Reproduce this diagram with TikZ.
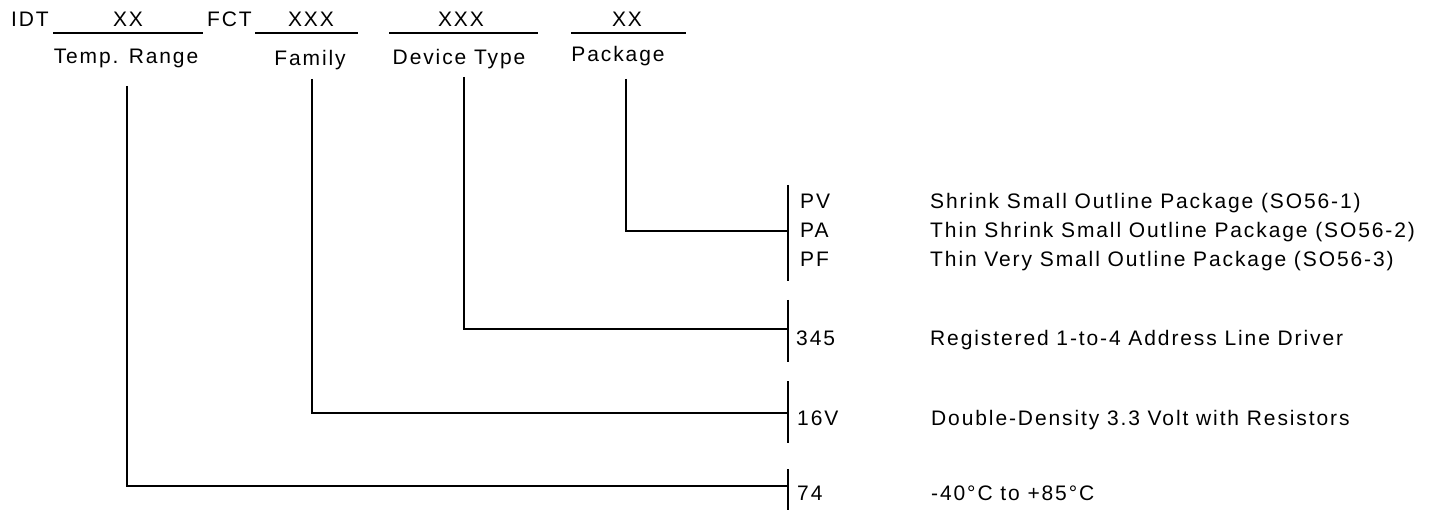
\documentclass[tikz,border=0pt]{standalone}
\usepackage{fontspec}
\setmainfont{Liberation Sans}
\newfontfamily\partfont[LetterSpace=9]{Liberation Sans}
\usetikzlibrary{positioning}

\begin{document}
\begin{tikzpicture}[
    x=1pt, y=-1pt,
    font={\partfont\fontsize{21}{25}\selectfont},
    txt/.style={anchor=base, inner sep=0pt},
    txtl/.style={anchor=base west, inner sep=0pt},
    rule/.style={line width=2.2pt},
    lead/.style={line width=2.2pt},
  ]
  \useasboundingbox (0,0) rectangle (1434,510);

  % --- Part number fields -------------------------------------------------
  \node[txtl] (idt) at (11,27) {IDT};
  \node[txt] (temp-code) at (128,27) {XX};
  \node[txtl] (fct) at (207,27) {FCT};
  \node[txt] (fam-code) at (311,27) {XXX};
  \node[txt] (dev-code) at (461,27) {XXX};
  \node[txt] (pkg-code) at (627,27) {XX};

  \draw[rule] (53,33) -- (203,33);
  \draw[rule] (255,33) -- (358,33);
  \draw[rule] (389,33) -- (538,33);
  \draw[rule] (571,33) -- (686,33);

  \node[txt] (temp) at (126,64) {Temp. Range};
  \node[txt] (fam) at (310,66) {Family};
  \node[txt] (dev) at (459,65) {Device Type};
  \node[txt] (pkg) at (618,62) {Package};

  % --- Lead-in points -----------------------------------------------------
  \coordinate (temp-in) at (127,86);
  \coordinate (fam-in) at (312,79);
  \coordinate (dev-in) at (464,77);
  \coordinate (pkg-in) at (626,79);

  % --- Option brackets ----------------------------------------------------
  \coordinate (pkg-br) at (788,231);
  \coordinate (dev-br) at (788,329);
  \coordinate (fam-br) at (788,413);
  \coordinate (temp-br) at (788,486);

  \draw[rule] (788,185) -- (788,281);
  \draw[rule] (788,300) -- (788,362);
  \draw[rule] (788,381) -- (788,443);
  \draw[rule] (788,469) -- (788,510);

  % --- Options ------------------------------------------------------------
  \node[txtl] (pv) at (800,209) {PV};
  \node[txtl] (pa) at (800,238) {PA};
  \node[txtl] (pf) at (800,267) {PF};
  \node[txtl] (d345) at (796,345) {345};
  \node[txtl] (d16v) at (797,425) {16V};
  \node[txtl] (d74) at (797,500) {74};

  \node[txtl] (pv-txt) at (930,209) {Shrink Small Outline Package (SO56-1)};
  \node[txtl] (pa-txt) at (930,238) {Thin Shrink Small Outline Package (SO56-2)};
  \node[txtl] (pf-txt) at (930,267) {Thin Very Small Outline Package (SO56-3)};
  \node[txtl] (d345-txt) at (930,345) {Registered 1-to-4 Address Line Driver};
  \node[txtl] (d16v-txt) at (931,425) {Double-Density 3.3 Volt with Resistors};
  \node[txtl] (d74-txt) at (931,500) {-40°C to +85°C};

  % --- Leads --------------------------------------------------------------
  \draw[lead] (pkg-in) |- (pkg-br);
  \draw[lead] (dev-in) |- (dev-br);
  \draw[lead] (fam-in) |- (fam-br);
  \draw[lead] (temp-in) |- (temp-br);

\end{tikzpicture}
\end{document}
